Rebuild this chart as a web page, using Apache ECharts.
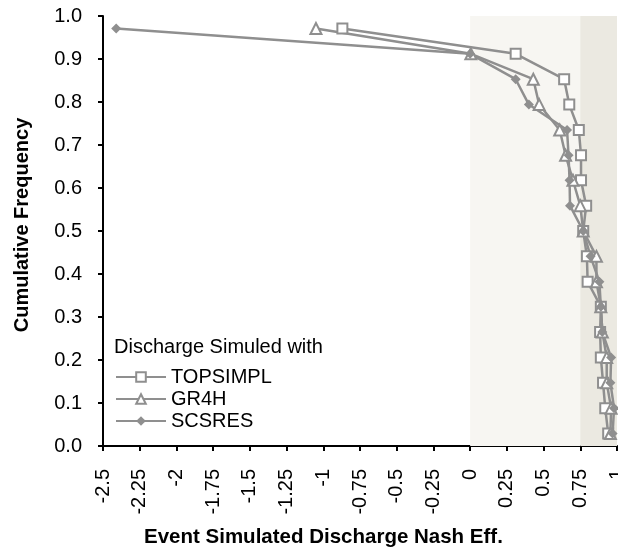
<!DOCTYPE html>
<html>
<head>
<meta charset="utf-8">
<script src="https://cdn.jsdelivr.net/npm/echarts@6/dist/echarts.min.js"></script>
<style>
  html, body { margin: 0; padding: 0; background: #fff; }
  #chart { width: 618px; height: 554px; }
</style>
</head>
<body>
<div id="chart"></div>
<script>
// cumulative frequency of each ranked event
var freq = [0.971, 0.912, 0.853, 0.794, 0.735, 0.676, 0.618, 0.559, 0.5,
  0.441, 0.382, 0.324, 0.265, 0.206, 0.147, 0.088, 0.029];
// Nash efficiency per model
var topsimpl = [-0.87, 0.31, 0.64, 0.675, 0.74, 0.755, 0.755, 0.79, 0.77,
  0.795, 0.80, 0.89, 0.885, 0.89, 0.905, 0.92, 0.94];
var gr4h = [-1.05, 0.005, 0.43, 0.47, 0.61, 0.65, 0.70, 0.75, 0.77,
  0.86, 0.86, 0.89, 0.90, 0.93, 0.93, 0.96, 0.955];
var scsres = [-2.41, 0.0, 0.31, 0.40, 0.66, 0.67, 0.677, 0.68, 0.77,
  0.82, 0.88, 0.89, 0.90, 0.96, 0.955, 0.98, 0.97];
var seriesNames = ["TOPSIMPL", "GR4H", "SCSRES"];
// shaded efficiency bands
var bands = [[0, 0.75], [0.75, 1]];

function pairs(xs) {
  return xs.map(function (x, i) { return [x, freq[i]]; });
}

var grey = "#8f8f8f";
var font = "Liberation Sans, Arial, sans-serif";

var chart = echarts.init(document.getElementById("chart"));
var option = {
  animation: false,
  grid: { left: 103, right: 1, top: 16, bottom: 108, outerBoundsMode: "none" },
  title: {
    text: "Discharge Simuled with",
    left: 114,
    top: 337,
    padding: 0,
    textStyle: { fontFamily: font, fontSize: 20, fontWeight: "normal", color: "#000" }
  },
  legend: {
    orient: "vertical",
    left: 115,
    top: 367,
    padding: 0,
    itemWidth: 50,
    itemHeight: 12,
    itemGap: 2,
    data: seriesNames,
    textStyle: { fontFamily: font, fontSize: 20, color: "#000" }
  },
  xAxis: {
    type: "value",
    min: -2.5,
    max: 1,
    interval: 0.25,
    splitLine: { show: false },
    axisLine: { onZero: false, lineStyle: { color: "#000", width: 2 } },
    axisTick: { length: 5, lineStyle: { color: "#000", width: 2 } },
    axisLabel: {
      rotate: 90,
      margin: 23,
      fontFamily: font,
      fontSize: 20,
      color: "#000",
      showMaxLabel: true
    }
  },
  yAxis: {
    type: "value",
    min: 0,
    max: 1,
    interval: 0.1,
    name: "Cumulative Frequency",
    nameLocation: "middle",
    nameGap: 71,
    nameTextStyle: { fontFamily: font, fontSize: 20, fontWeight: "bold", color: "#000", padding: [0, 0, 0, 12] },
    splitLine: { show: false },
    axisLine: { show: true, onZero: false, lineStyle: { color: "#000", width: 2 } },
    axisTick: { show: true, length: 5, lineStyle: { color: "#000", width: 2 } },
    axisLabel: {
      margin: 21,
      fontFamily: font,
      fontSize: 20,
      color: "#000",
      formatter: function (v) { return v.toFixed(1); }
    }
  },
  graphic: [{
    type: "text",
    left: 144,
    top: 527,
    style: {
      text: "Event Simulated Discharge Nash Eff.",
      font: "bold 20.5px " + font,
      fill: "#000"
    }
  }],
  series: [
    {
      name: seriesNames[0],
      type: "line",
      data: pairs(topsimpl),
      symbol: "emptyRect",
      symbolSize: 10,
      lineStyle: { color: grey, width: 2.5 },
      itemStyle: { color: grey, borderWidth: 2 },
      markArea: {
        silent: true,
        data: [
          [{ xAxis: bands[0][0], itemStyle: { color: "#f7f6f2" } }, { xAxis: bands[0][1] }],
          [{ xAxis: bands[1][0], itemStyle: { color: "#ebe9e1" } }, { xAxis: bands[1][1] }]
        ]
      }
    },
    {
      name: seriesNames[1],
      type: "line",
      data: pairs(gr4h),
      symbol: "emptyTriangle",
      symbolSize: 11,
      lineStyle: { color: grey, width: 2.5 },
      itemStyle: { color: grey, borderWidth: 2 }
    },
    {
      name: seriesNames[2],
      type: "line",
      data: pairs(scsres),
      symbol: "diamond",
      symbolSize: 10,
      lineStyle: { color: grey, width: 2.5 },
      itemStyle: { color: grey }
    }
  ]
};
chart.setOption(option);
</script>
</body>
</html>
